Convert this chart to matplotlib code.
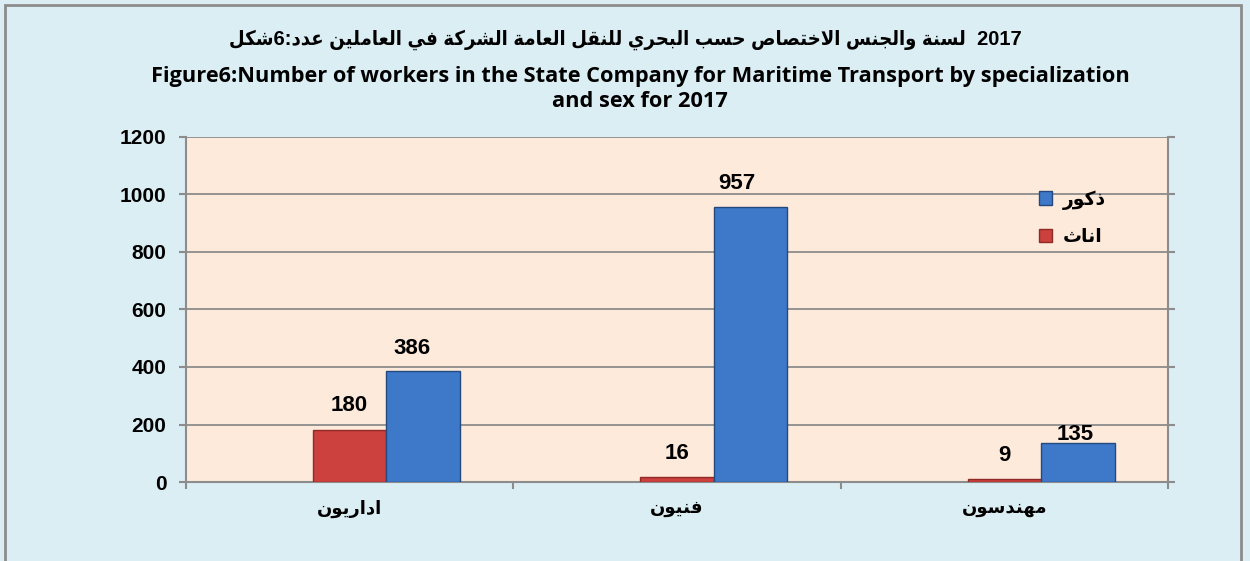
import numpy as np
import matplotlib
matplotlib.use("Agg")
import matplotlib.pyplot as plt
from matplotlib.patches import Rectangle, Patch

# --- data ---
categories = ["اداريون", "فنيون", "مهندسون"]
females = [180, 16, 9]
males = [386, 957, 135]
female_label = "اناث"
male_label = "ذكور"
title_ar = "شكل6:عدد العاملين في الشركة العامة للنقل البحري حسب الاختصاص والجنس لسنة  2017"
title_en = "Figure6:Number of workers in the State Company for Maritime Transport by specialization\nand sex for 2017"
yticks = [0, 200, 400, 600, 800, 1000, 1200]

# --- tiny arabic shaper (matplotlib has no text shaping) ---
FORMS = {
    "ا": (0xFE8D, 0xFE8E, None, None), "ب": (0xFE8F, 0xFE90, 0xFE91, 0xFE92),
    "ة": (0xFE93, 0xFE94, None, None), "ت": (0xFE95, 0xFE96, 0xFE97, 0xFE98),
    "ث": (0xFE99, 0xFE9A, 0xFE9B, 0xFE9C), "ج": (0xFE9D, 0xFE9E, 0xFE9F, 0xFEA0),
    "ح": (0xFEA1, 0xFEA2, 0xFEA3, 0xFEA4), "خ": (0xFEA5, 0xFEA6, 0xFEA7, 0xFEA8),
    "د": (0xFEA9, 0xFEAA, None, None), "ذ": (0xFEAB, 0xFEAC, None, None),
    "ر": (0xFEAD, 0xFEAE, None, None), "ز": (0xFEAF, 0xFEB0, None, None),
    "س": (0xFEB1, 0xFEB2, 0xFEB3, 0xFEB4), "ش": (0xFEB5, 0xFEB6, 0xFEB7, 0xFEB8),
    "ص": (0xFEB9, 0xFEBA, 0xFEBB, 0xFEBC), "ع": (0xFEC9, 0xFECA, 0xFECB, 0xFECC),
    "ف": (0xFED1, 0xFED2, 0xFED3, 0xFED4), "ق": (0xFED5, 0xFED6, 0xFED7, 0xFED8),
    "ك": (0xFED9, 0xFEDA, 0xFEDB, 0xFEDC), "ل": (0xFEDD, 0xFEDE, 0xFEDF, 0xFEE0),
    "م": (0xFEE1, 0xFEE2, 0xFEE3, 0xFEE4), "ن": (0xFEE5, 0xFEE6, 0xFEE7, 0xFEE8),
    "ه": (0xFEE9, 0xFEEA, 0xFEEB, 0xFEEC), "و": (0xFEED, 0xFEEE, None, None),
    "ي": (0xFEF1, 0xFEF2, 0xFEF3, 0xFEF4),
}


def shape_run(word):
    # lam-alef ligature
    chars = []
    i = 0
    while i < len(word):
        if word[i] == "ل" and i + 1 < len(word) and word[i + 1] == "ا":
            chars.append("LA")
            i += 2
        else:
            chars.append(word[i])
            i += 1
    out = []
    for k, c in enumerate(chars):
        prev = chars[k - 1] if k > 0 else None
        nxt = chars[k + 1] if k + 1 < len(chars) else None
        jp = prev is not None and prev != "LA" and prev in FORMS and FORMS[prev][2] is not None
        if c == "LA":
            out.append(chr(0xFEFC if jp else 0xFEFB))
            continue
        f = FORMS[c]
        jn = nxt is not None and f[2] is not None
        if jp and jn:
            out.append(chr(f[3]))
        elif jp:
            out.append(chr(f[1]))
        elif jn:
            out.append(chr(f[2]))
        else:
            out.append(chr(f[0]))
    return "".join(reversed(out))


def ar(text):
    res, run = "", ""
    for ch in text:
        if ch in FORMS:
            run += ch
        else:
            if run:
                res += shape_run(run)
                run = ""
            res += ch
    if run:
        res += shape_run(run)
    return res


FAM = ["Liberation Sans", "DejaVu Sans"]
plt.rcParams["font.family"] = FAM
plt.rcParams["font.weight"] = "bold"

BG = "#DBEEF4"
PLOT_BG = "#FDEADA"
GRID = "#8C8C8C"
BLUE = "#3E79C9"
RED = "#CC403D"

fig = plt.figure(figsize=(12.5, 5.61), dpi=100, facecolor=BG)
fig.patches.append(Rectangle((5 / 1250, -0.05), 1236 / 1250, 1.05 - 5 / 561,
                             transform=fig.transFigure, fill=False,
                             edgecolor="#8C8C8C", linewidth=2))

ax = fig.add_axes([186 / 1250, 79 / 561, 982 / 1250, 345 / 561])
ax.set_facecolor(PLOT_BG)

x = np.arange(len(categories))
w = 0.2245
b1 = ax.bar(x, females, w, color=RED, edgecolor="#8E2A27", linewidth=1.0, zorder=3)
b2 = ax.bar(x + w, males, w, color=BLUE, edgecolor="#24497F", linewidth=1.0, zorder=3)

male_offsets = [(-8, 9), (-10, 9), (-2, -1)]
for xi, v in zip(x, females):
    ax.annotate(str(v), (xi, v), xytext=(0, 10), textcoords="offset points",
                ha="center", va="bottom", fontsize=16, fontweight="bold")
for xi, v, off in zip(x, males, male_offsets):
    ax.annotate(str(v), (xi + w, v), xytext=off, textcoords="offset points",
                ha="center", va="bottom", fontsize=16, fontweight="bold")

ax.set_xlim(-0.5, len(categories) - 0.5)
ax.set_ylim(0, 1200)
ax.set_yticks(yticks)
ax.set_yticklabels([str(t) for t in yticks], fontsize=15, fontweight="bold")
ax.yaxis.grid(True, color=GRID, linewidth=1.3, zorder=0)
ax.set_axisbelow(True)

ax.set_xticks(x)
ax.set_xticklabels([ar(c) for c in categories], fontsize=13, fontweight="bold")
ax.set_xticks(np.arange(len(categories) + 1) - 0.5, minor=True)
ax.tick_params(axis="x", which="major", length=0, pad=13)
ax.tick_params(axis="x", which="minor", length=5, width=1.5, color=GRID)
ax.tick_params(axis="y", length=5, width=1.5, color=GRID, pad=9, right=True)

for s in ["left", "bottom", "right"]:
    ax.spines[s].set_color(GRID)
    ax.spines[s].set_linewidth(1.5)
ax.spines["top"].set_visible(False)

handles = [Patch(facecolor=BLUE, edgecolor="#24497F"), Patch(facecolor=RED, edgecolor="#8E2A27")]
leg = ax.legend(handles, [ar(male_label), ar(female_label)], loc="upper left",
                bbox_to_anchor=(0.851, 0.895), frameon=False,
                handlelength=0.7, handleheight=0.7, handletextpad=0.6, labelspacing=1.05,
                prop={"weight": "bold", "size": 13.5, "family": FAM})

fig.text(0.5, 1 - 40 / 561, ar(title_ar), ha="center", va="center", fontsize=14.5,
         fontweight="bold", fontstretch="condensed", family=FAM)
fig.text(0.512, 1 - 89 / 561, title_en, ha="center", va="center", fontsize=15.7,
         fontweight="bold", family=["Open Sans", "DejaVu Sans"], linespacing=1.2)

fig.savefig("out.png", dpi=100, facecolor=BG)
